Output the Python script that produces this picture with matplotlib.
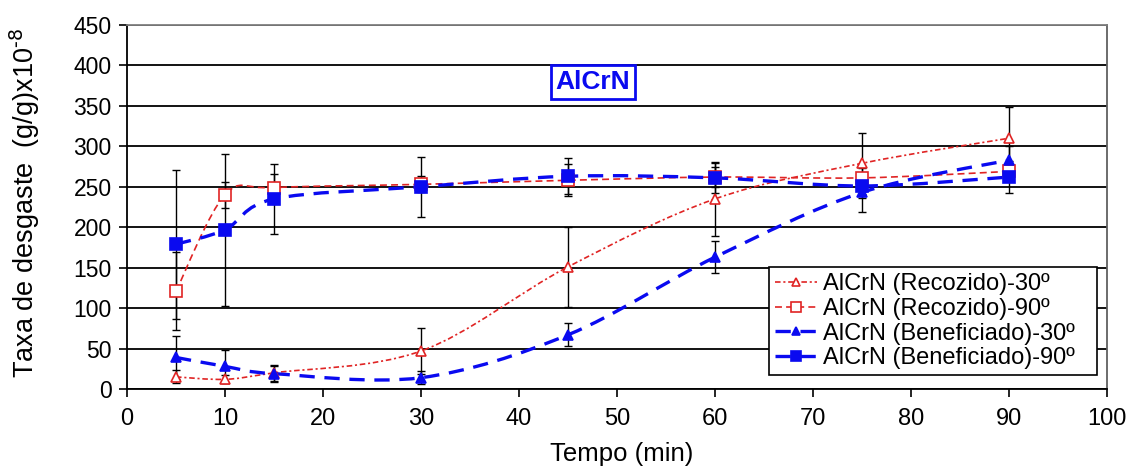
import numpy as np
import matplotlib
matplotlib.use("Agg")
import matplotlib.pyplot as plt
from matplotlib.path import Path
from matplotlib.patches import PathPatch
from matplotlib.lines import Line2D

plt.rcParams['font.family'] = ['Liberation Sans', 'DejaVu Sans']
plt.rcParams['lines.scale_dashes'] = False

# ---- data ----
tempo = [5, 10, 15, 30, 45, 60, 75, 90]
rec30 = [15, 12, 20, 47, 151, 235, 279, 310]
rec30_err = [8, 5, 10, 28, 49, 46, 38, 38]
rec90 = [121, 240, 249, 253, 258, 262, 261, 269]
rec90_err = [48, 16, 17, 10, 20, 12, 12, 10]
ben30 = [39, 28, 19, 14, 67, 163, 243, 283]
ben30_err = [26, 20, 10, 8, 14, 20, 24, 18]
ben90 = [179, 197, 235, 250, 263, 261, 251, 262]
ben90_err = [92, 94, 43, 37, 22, 19, 15, 20]

labels = ['AlCrN (Recozido)-30º', 'AlCrN (Recozido)-90º',
          'AlCrN (Beneficiado)-30º', 'AlCrN (Beneficiado)-90º']
xticks = list(range(0, 101, 10))
yticks = list(range(0, 451, 50))

RED = '#E02424'
BLUE = '#0A0AF0'

fig = plt.figure(figsize=(11.29, 4.66), dpi=100)
ax = fig.add_axes([0.1125, 0.1652, 0.868, 0.7812])


def smooth_path(x, y):
    pts = np.column_stack([x, y]).astype(float)
    n = len(pts)
    verts = [pts[0]]
    codes = [Path.MOVETO]
    for i in range(n - 1):
        p0 = pts[max(i - 1, 0)]
        p1 = pts[i]
        p2 = pts[i + 1]
        p3 = pts[min(i + 2, n - 1)]
        c1 = p1 + (p2 - p0) / 6.0
        c2 = p2 - (p3 - p1) / 6.0
        verts += [c1, c2, p2]
        codes += [Path.CURVE4] * 3
    return Path(verts, codes)


series = [
    (rec30, rec30_err, RED, 1.2, (0, (4, 2, 1.5, 2)), '^', 'white', 7),
    (rec90, rec90_err, RED, 1.2, (0, (5, 3)), 's', 'white', 8),
    (ben30, ben30_err, BLUE, 2.4, (0, (11, 7)), '^', BLUE, 7.5),
    (ben90, ben90_err, BLUE, 2.4, (0, (11, 7)), 's', BLUE, 8),
]

handles = []
for (vals, err, col, lw, ls, mk, mfc, ms), lab in zip(series, labels):
    ax.errorbar(tempo, vals, yerr=err, fmt='none', ecolor='black',
                elinewidth=1.0, capsize=3, capthick=1.0, zorder=3)
    patch = PathPatch(smooth_path(tempo, vals), facecolor='none',
                      edgecolor=col, lw=lw, linestyle=ls, zorder=4)
    ax.add_patch(patch)
    ax.plot(tempo, vals, linestyle='none', marker=mk, markersize=ms,
            markerfacecolor=mfc, markeredgecolor=col, markeredgewidth=1.2,
            zorder=5)
    handles.append(Line2D([0], [0], color=col, lw=lw, linestyle=ls,
                          marker=mk, markersize=ms * 0.85, markerfacecolor=mfc,
                          markeredgecolor=col, markeredgewidth=1.2))

ax.set_xlim(0, 100)
ax.set_ylim(0, 450)
ax.set_xticks(xticks)
ax.set_yticks(yticks)
ax.tick_params(axis='both', length=6, width=1.2, direction='out')
ax.tick_params(axis='x', labelsize=17, pad=8)
ax.tick_params(axis='y', labelsize=16.5, pad=5)
ax.yaxis.grid(True, color='black', lw=1.3)
ax.set_axisbelow(True)
for sp in ax.spines.values():
    sp.set_linewidth(1.3)
    sp.set_color('black')
ax.spines['top'].set_color('#808080')
ax.spines['right'].set_color('#606060')

ax.set_xlabel('Tempo (min)', fontsize=18.5)
ax.xaxis.set_label_coords(0.505, -0.145)
ax.set_ylabel('Taxa de desgaste  (g/g)x10$^{\\text{-}8}$', fontsize=19.5)
ax.yaxis.set_label_coords(-0.087, 0.512)

ax.text(0.4755, 0.843, 'AlCrN', transform=ax.transAxes, ha='center', va='center',
        fontsize=19, fontweight='bold', color=BLUE, zorder=6,
        bbox=dict(boxstyle='square,pad=0.18', facecolor='white', edgecolor=BLUE, lw=2))

leg = ax.legend(handles, labels, loc='upper left',
                bbox_to_anchor=(0.655, 0.044, 0.335, 0.291), mode='expand',
                fontsize=17, frameon=True, fancybox=False, edgecolor='black',
                framealpha=1, borderpad=0.25, labelspacing=0.12,
                handlelength=1.8, handletextpad=0.25, borderaxespad=0,
                numpoints=1)
leg.get_frame().set_linewidth(1.2)
leg.set_zorder(10)

fig.savefig('out.png', dpi=100)
